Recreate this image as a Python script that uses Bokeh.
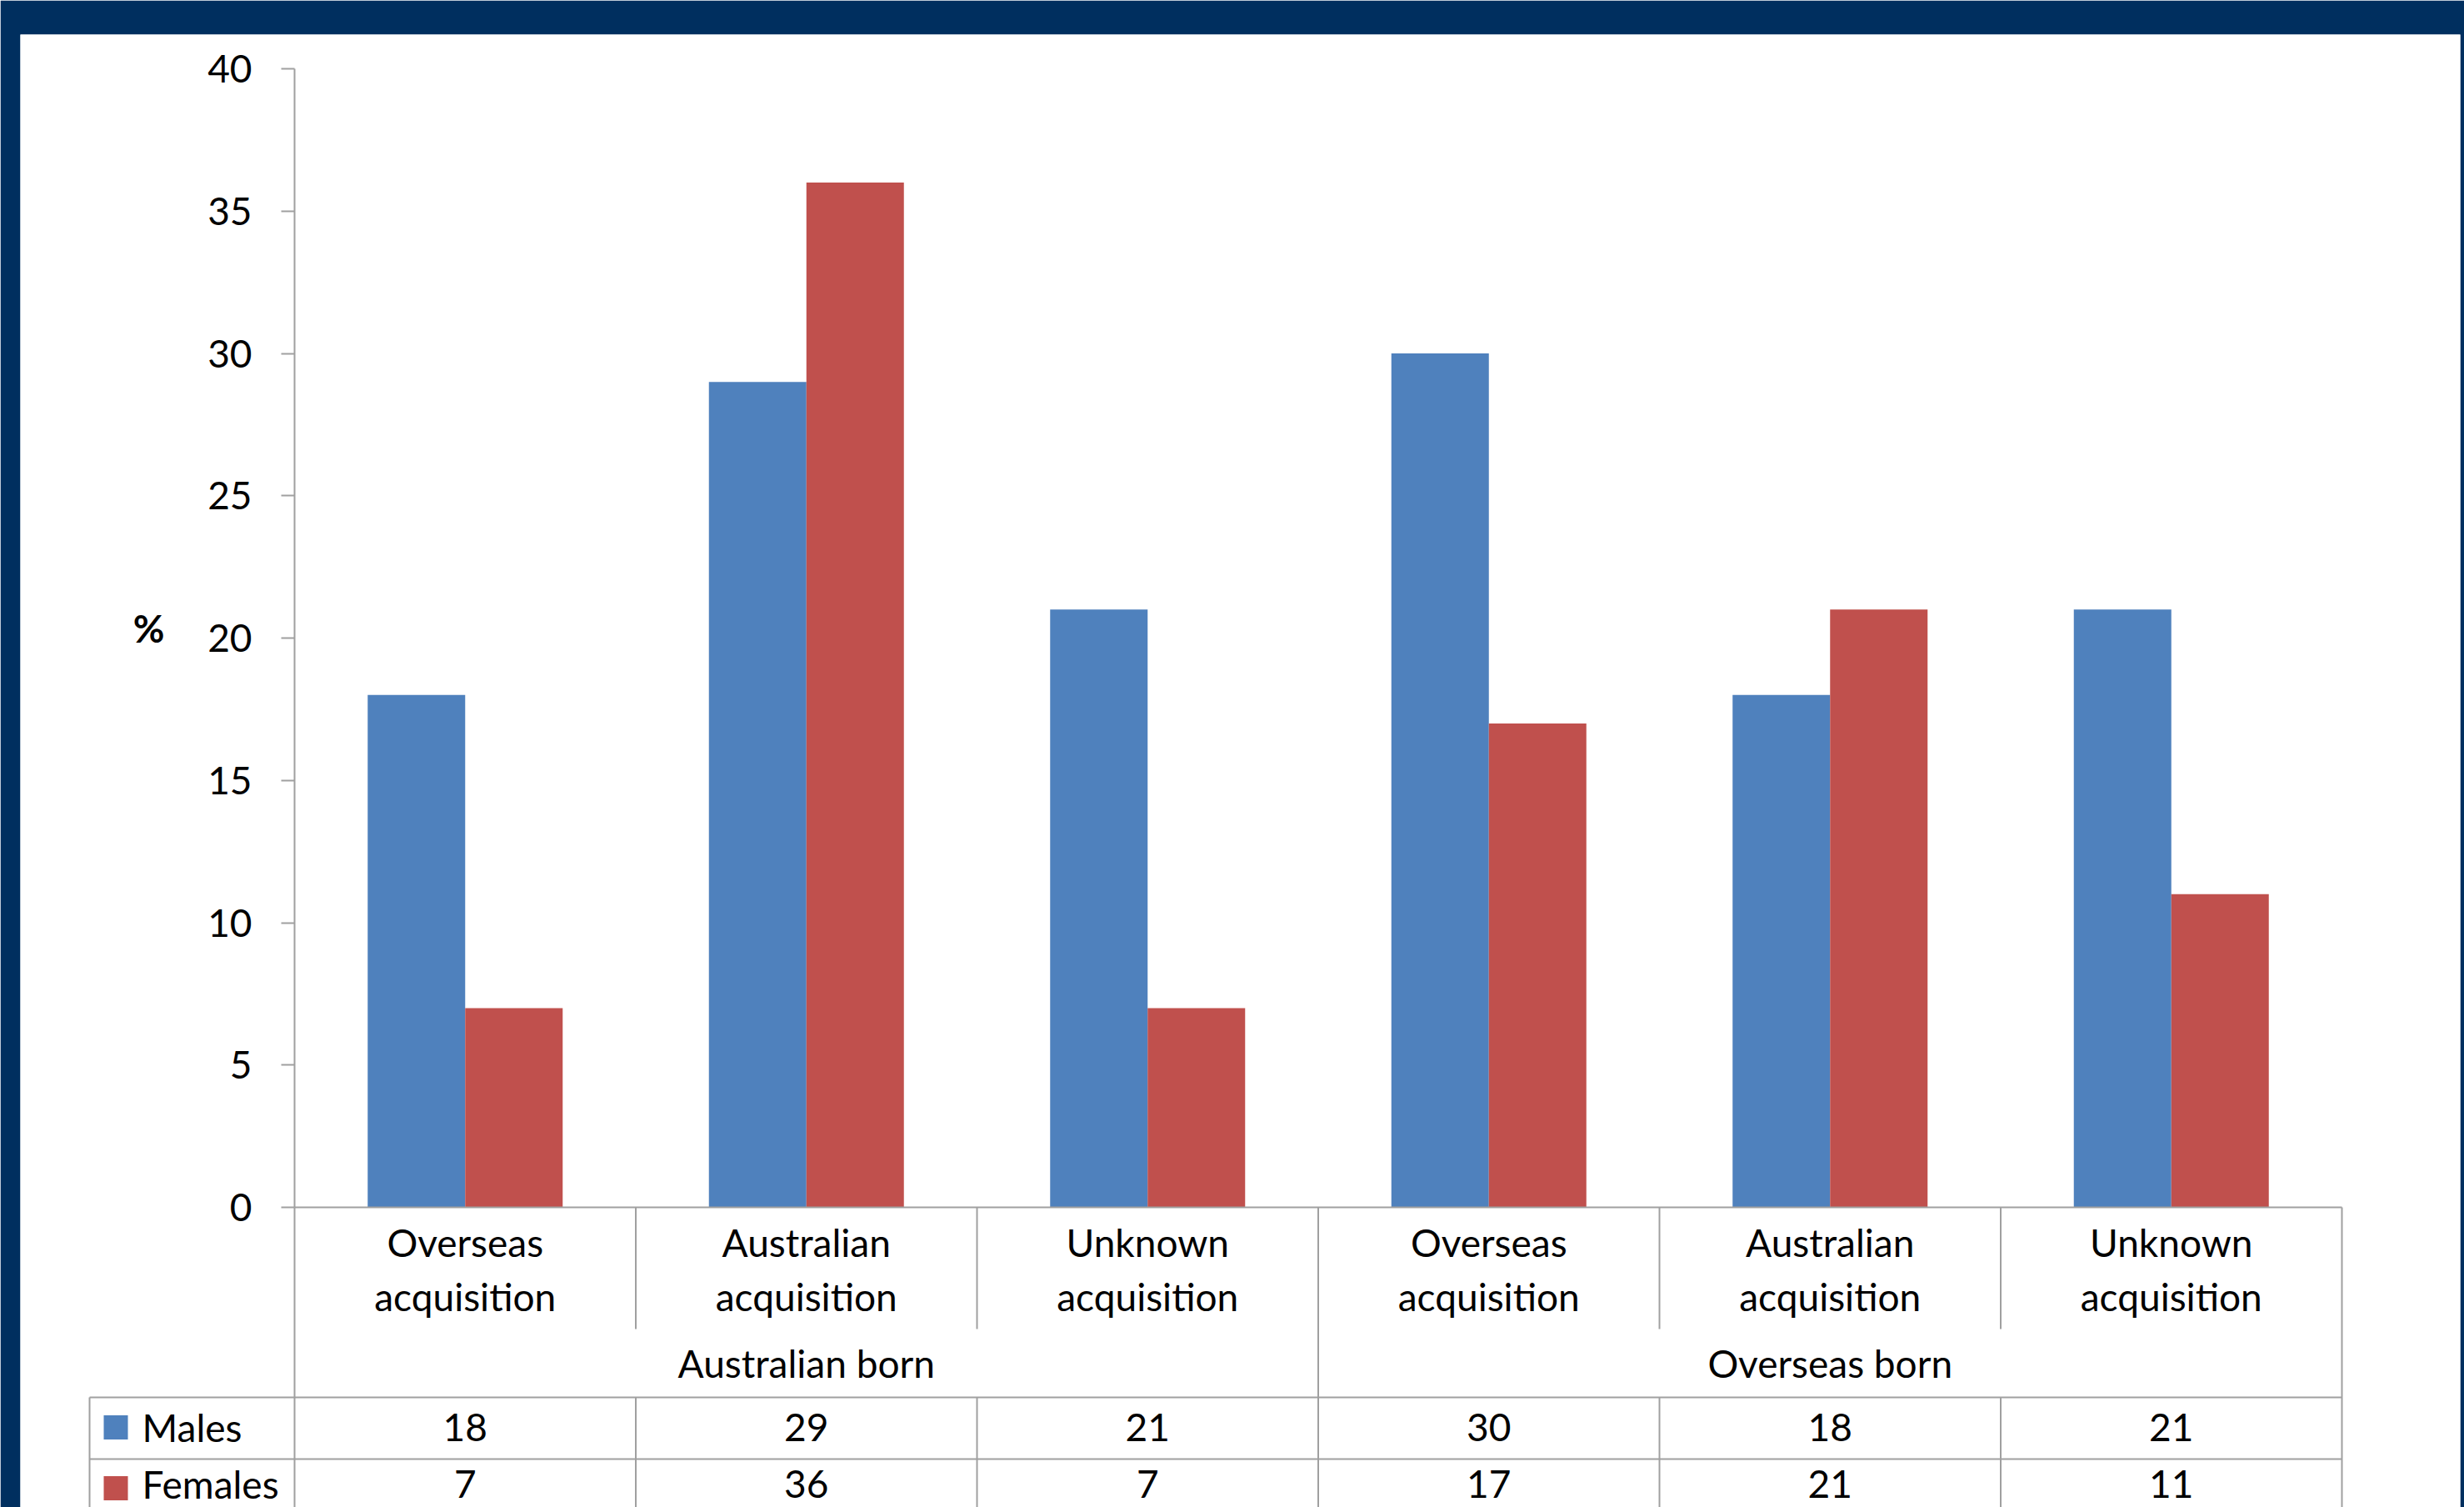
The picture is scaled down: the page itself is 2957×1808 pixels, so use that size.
import numpy as np
from bokeh.plotting import figure
from bokeh.models import Range1d, LinearAxis, FixedTicker, ColumnDataSource
from bokeh.core.properties import value
from bokeh.embed import file_html
from bokeh.resources import INLINE

# ---------------- data ----------------
groups = ["Australian born", "Overseas born"]
acquisition = ["Overseas acquisition", "Australian acquisition", "Unknown acquisition"]
categories = [a for g in groups for a in acquisition]
group_of = [g for g in groups for a in acquisition]
series = ["Males", "Females"]
males = [18, 29, 21, 30, 18, 21]
females = [7, 36, 7, 17, 21, 11]
y_ticks = [0, 5, 10, 15, 20, 25, 30, 35, 40]
y_title = "%"

# ---------------- layout (pixels) ----------------
W, H = 2957, 1808
FL, FR, FT, FB = 24, 2952, 41, 1808      # white panel
AX0, AX1 = 353, 2810                      # category span
Y0PX, YTOPPX = 1448, 82                   # y=0 and y=40
YMAX = 40
NAVY = "#002F5F"
GREY = "#A0A0A0"
BLUE = "#4F81BD"
RED = "#C0504D"
FONT = "Lato"
FS = "46px"

n = len(categories)
cw = (AX1 - AX0) / n
yu = (Y0PX - YTOPPX) / YMAX


def dx(px):
    return (px - AX0) / cw


def dy(py):
    return (Y0PX - py) / yu


p = figure(width=W, height=H, output_backend="svg", toolbar_location=None,
           x_range=Range1d(dx(FL), dx(FR)), y_range=Range1d(dy(FB), dy(FT)),
           min_border_left=FL, min_border_right=W - FR,
           min_border_top=FT, min_border_bottom=H - FB,
           x_axis_type=None, y_axis_type=None)
p.background_fill_color = "white"
p.border_fill_color = NAVY
p.outline_line_color = None

# ---------------- bars ----------------
xc = np.arange(n) + 0.5
bw = 117 / cw
src = ColumnDataSource(dict(xm=xc - bw / 2, xf=xc + bw / 2, males=males, females=females))
p.vbar(x="xm", top="males", bottom=0, width=bw, source=src, fill_color=BLUE, line_color=None)
p.vbar(x="xf", top="females", bottom=0, width=bw, source=src, fill_color=RED, line_color=None)

# ---------------- y axis ----------------
yaxis = LinearAxis(fixed_location=0, bounds=(0, YMAX), ticker=FixedTicker(ticks=y_ticks),
                   axis_line_color=GREY, axis_line_width=2,
                   major_tick_line_color=GREY, major_tick_line_width=2,
                   major_tick_in=0, major_tick_out=16, minor_tick_line_color=None,
                   major_label_text_font=FONT, major_label_text_font_size=FS,
                   major_label_text_color="black", major_label_standoff=35)
p.add_layout(yaxis, "left")
p.text(x=[dx(178)], y=[dy(753)], text=[y_title], text_align="center", text_baseline="middle",
       text_font=value(FONT), text_font_size=FS, text_font_style="bold", text_color="black")

# ---------------- data table ----------------
TL = 107            # table left edge
CAT_BOT = 1594      # bottom of category dividers
GRP_BOT = 1676      # bottom of group row
ROW1_BOT = 1750     # bottom of males row
xs0, ys0, xs1, ys1 = [], [], [], []


def seg(x0, y0, x1, y1):
    xs0.append(x0); ys0.append(y0); xs1.append(x1); ys1.append(y1)


seg(0, 0, n, 0)
seg(dx(TL), dy(GRP_BOT), n, dy(GRP_BOT))
seg(dx(TL), dy(ROW1_BOT), n, dy(ROW1_BOT))
seg(dx(TL), dy(GRP_BOT), dx(TL), dy(FB))
for k in range(n + 1):
    if k in (0, n, n // 2):
        seg(k, 0, k, dy(FB))
    else:
        seg(k, 0, k, dy(CAT_BOT))
        seg(k, dy(GRP_BOT), k, dy(FB))
p.segment(x0=xs0, y0=ys0, x1=xs1, y1=ys1, line_color=GREY, line_width=2)

txt = dict(text_align="center", text_baseline="middle", text_font=value(FONT),
           text_font_size=FS, text_color="black")
first = [c.split(" ")[0] for c in categories]
second = [c.split(" ")[1] for c in categories]
p.text(x=xc, y=[dy(1490)] * n, text=first, **txt)
p.text(x=xc, y=[dy(1555)] * n, text=second, **txt)
gx = [np.mean([xc[i] for i in range(n) if group_of[i] == g]) for g in groups]
p.text(x=gx, y=[dy(1635)] * len(groups), text=groups, **txt)
ROW_Y = [1712, 1780]
p.text(x=xc, y=[dy(ROW_Y[0])] * n, text=[str(v) for v in males], **txt)
p.text(x=xc, y=[dy(ROW_Y[1])] * n, text=[str(v) for v in females], **txt)

row_y = [dy(ROW_Y[0]), dy(ROW_Y[1] + 5)]
p.scatter(x=[dx(138.5)] * 2, y=row_y, marker="square", size=29,
          fill_color=[BLUE, RED], line_color=None)
p.text(x=[dx(170)] * 2, y=[dy(v) for v in ROW_Y], text=series, text_align="left",
       text_baseline="middle", text_font=value(FONT), text_font_size=FS, text_color="black")

open("out.html", "w").write(file_html(p, INLINE))
